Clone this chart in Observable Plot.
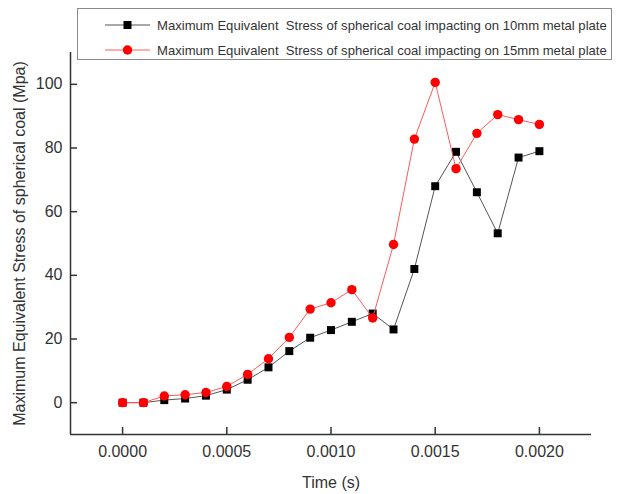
<!DOCTYPE html>
<html><head><meta charset="utf-8">
<script src="https://cdn.jsdelivr.net/npm/d3@7"></script>
<script src="https://cdn.jsdelivr.net/npm/@observablehq/plot@0.6"></script>
<style>
body{margin:0;background:#fff;font-family:"Liberation Sans",Arial,sans-serif;}
#wrap{position:relative;width:617px;height:494px;}
#legend{position:absolute;left:77px;top:8px;width:535px;height:52px;border:1px solid #8a8a8a;box-sizing:border-box;background:#fff;}
.row{position:absolute;left:0;height:20px;display:flex;align-items:center;font-size:13.1px;color:#333;white-space:pre;}
.row svg{margin-left:27px;margin-right:7px;}
</style></head>
<body>
<div id="wrap"><div id="chart"></div>
<div id="legend"></div></div>
<script>
const time = [0,0.0001,0.0002,0.0003,0.0004,0.0005,0.0006,0.0007,0.0008,0.0009,0.0010,0.0011,0.0012,0.0013,0.0014,0.0015,0.0016,0.0017,0.0018,0.0019,0.0020];
const stress10 = [0,0,0.8,1.3,2.2,4.1,7.2,11.1,16.2,20.4,22.8,25.4,28.0,23.0,42.0,68.0,78.8,66.1,53.2,77.0,79.0];
const stress15 = [0,0,2.1,2.5,3.2,5.1,8.9,13.8,20.5,29.4,31.4,35.5,26.6,49.7,82.8,100.6,73.5,84.6,90.5,88.9,87.4];
const seriesNames = ["Maximum Equivalent  Stress of spherical coal impacting on 10mm metal plate",
                     "Maximum Equivalent  Stress of spherical coal impacting on 15mm metal plate"];
const xTicks = [0,0.0005,0.0010,0.0015,0.0020];
const yTicks = [0,20,40,60,80,100];
const xDomain = [-0.00025,0.00225];
const yDomain = [-10,110];
const xLabel = "Time (s)";
const yLabel = "Maximum Equivalent Stress of spherical coal (Mpa)";

const d10 = time.map((t,i)=>({t, v:stress10[i]}));
const d15 = time.map((t,i)=>({t, v:stress15[i]}));

const chart = Plot.plot({
  width:617, height:494,
  marginLeft:70, marginRight:26, marginTop:52, marginBottom:60,
  x:{domain:xDomain}, y:{domain:yDomain},
  style:{fontFamily:'"Liberation Sans",Arial,sans-serif', fontSize:"16px", color:"#333", background:"#fff"},
  marks:[
    Plot.ruleX([xDomain[0]], {stroke:"#333", strokeWidth:1.5}),
    Plot.ruleY([yDomain[0]], {stroke:"#333", strokeWidth:1.5}),
    Plot.axisX({ticks:xTicks, tickFormat:d=>d.toFixed(4), tickSize:-7, tickPadding:18, strokeWidth:1.5,
      label:xLabel, labelAnchor:"center", labelOffset:53, labelArrow:"none", fontSize:16}),
    Plot.axisY({ticks:yTicks, tickSize:-7, tickPadding:15, strokeWidth:1.5,
      label:yLabel, labelAnchor:"center", labelOffset:57, labelArrow:"none", fontSize:16}),
    Plot.line(d10, {x:"t", y:"v", stroke:"#555", strokeWidth:1}),
    Plot.dot(d10, {x:"t", y:"v", symbol:"square", r:4.5, fill:"#000", stroke:"none"}),
    Plot.line(d15, {x:"t", y:"v", stroke:"#ff5a5a", strokeWidth:1}),
    Plot.dot(d15, {x:"t", y:"v", symbol:"circle", r:4.7, fill:"#ff0000", stroke:"none"})
  ]
});
document.getElementById("chart").appendChild(chart);

const legend = document.getElementById("legend");
const styles = [{line:"#555", fill:"#000", shape:"square"},{line:"#ff5a5a", fill:"#ff0000", shape:"circle"}];
seriesNames.forEach((name,i)=>{
  const row = document.createElement("div");
  row.className = "row";
  row.style.top = (i===0 ? 6 : 31) + "px";
  const s = styles[i];
  const mk = s.shape==="square"
    ? `<rect x="18.5" y="6" width="8" height="8" fill="${s.fill}"/>`
    : `<circle cx="22.5" cy="10" r="4.7" fill="${s.fill}"/>`;
  row.innerHTML = `<svg width="45" height="20"><line x1="0" x2="45" y1="10" y2="10" stroke="${s.line}" stroke-width="1"/>${mk}</svg><span>${name}</span>`;
  legend.appendChild(row);
});
</script>
</body></html>
